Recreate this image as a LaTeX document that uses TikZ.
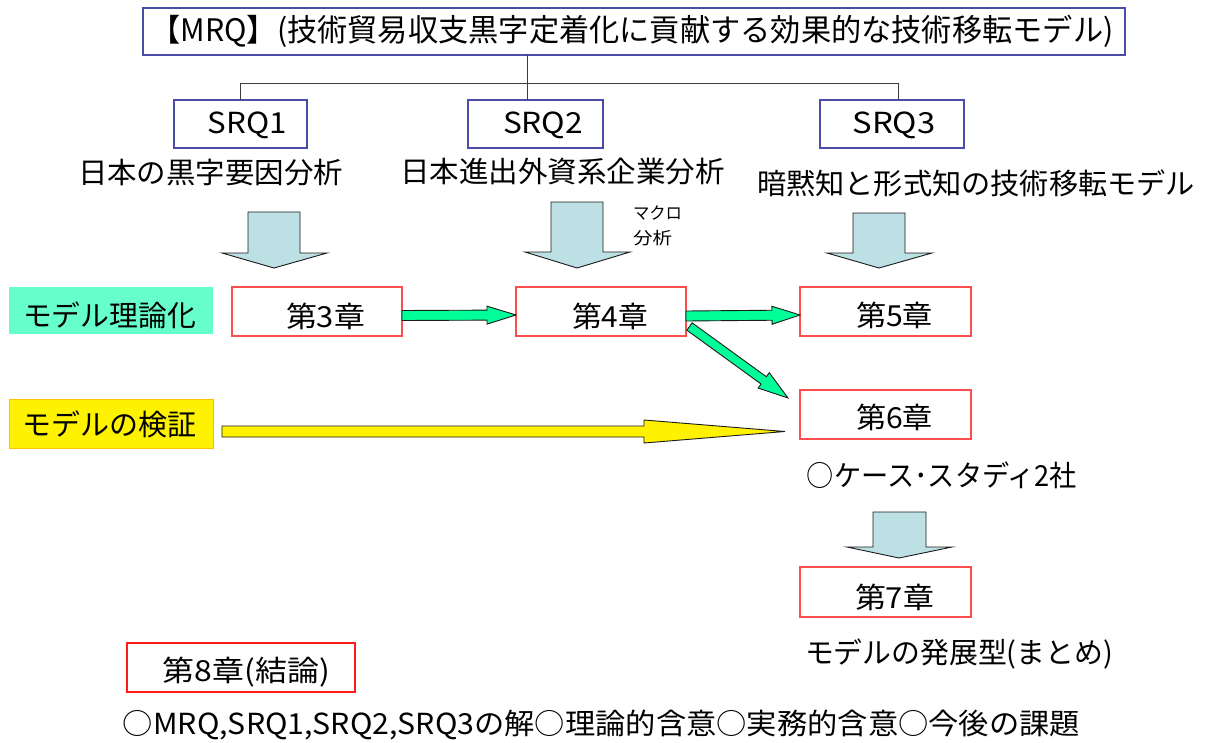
\documentclass[tikz,border=0pt]{standalone}
\usepackage{fontspec}
\setmainfont{Noto Sans CJK JP}
\usepackage{graphicx}
\usetikzlibrary{calc}
\definecolor{boxblue}{HTML}{4B4BAA}
\definecolor{chapred}{HTML}{FF4D4D}
\definecolor{redeight}{HTML}{FF1A1A}
\definecolor{lblue}{HTML}{BCE0E4}
\definecolor{sgreen}{HTML}{00FF99}
\definecolor{aqua}{HTML}{66FFCC}
\definecolor{goldline}{HTML}{FFC000}
\definecolor{outl}{HTML}{1A1A1A}
\newcommand\fw[2]{\resizebox{#1pt}{\height}{#2}}
% block arrow: #1 start, #2 tip, #3 shaft half width, #4 head half width, #5 head length, #6 style
\newcommand\blk[6]{%
  \coordinate (bkh) at ($(#2)!#5!(#1)$);
  \filldraw[#6] ($(#1)!#3!90:(#2)$) -- ($(bkh)!#3!90:(#2)$) -- ($(bkh)!#4!90:(#2)$) -- (#2)
    -- ($(bkh)!#4!-90:(#2)$) -- ($(bkh)!#3!-90:(#2)$) -- ($(#1)!#3!-90:(#2)$) -- cycle;}
\begin{document}
\begin{tikzpicture}[x=1pt,y=-1pt,
  every node/.style={inner sep=0pt, outer sep=0pt, font=\fontsize{29}{34}\selectfont},
  bluebox/.style={draw=boxblue, line width=1.2pt, rectangle},
  chapbox/.style={draw=chapred, line width=1.2pt, rectangle, minimum width=170pt, minimum height=49pt},
  bigarrow/.style={fill=lblue, draw=outl, line width=0.9pt},
  garrow/.style={fill=sgreen, draw=outl, line width=0.9pt},
  yarrow/.style={fill=yellow, draw=outl, line width=0.9pt},
  treeline/.style={draw=outl!85, line width=1pt},
  small/.style={font=\fontsize{17}{20}\selectfont}]
\fill[white] (0,0) rectangle (1205,742);
\useasboundingbox (0,0) rectangle (1205,742);

% title
\node[bluebox, minimum width=982pt, minimum height=47pt] (title) at (634,31.5) {};
\node[font=\fontsize{31}{34}\selectfont] (titletxt) at (632,31.5) {\fw{963}{【MRQ】(技術貿易収支黒字定着化に貢献する効果的な技術移転モデル)}};

% SRQ boxes
\node[bluebox, minimum width=133pt, minimum height=48pt] (s1) at (240.5,124) {};
\node[bluebox, minimum width=135pt, minimum height=48pt] (s2) at (535.5,124) {};
\node[bluebox, minimum width=144pt, minimum height=48pt] (s3) at (892,124) {};
\node (s1t) at (247.5,125) {\fw{79}{SRQ1}};
\node (s2t) at (543,125) {\fw{80}{SRQ2}};
\node (s3t) at (894,125) {\fw{83}{SRQ3}};

% tree lines
\coordinate (jn) at (527,83);
\draw[treeline] (title.south -| jn) -- (s2.north -| jn);
\draw[treeline] (s1.north) -- (s1.north |- jn) -- ($(s3.north |- jn)+(6,0)$) -- ($(s3.north)+(6,0)$);

% SRQ labels
\node (l1) at (210.5,173) {\fw{265}{日本の黒字要因分析}};
\node (l2) at (562.5,172) {\fw{325}{日本進出外資系企業分析}};
\node (l3) at (976,183) {\fw{438}{暗黙知と形式知の技術移転モデル}};
\node[small] (mk1) at (657.5,213) {\fw{49}{マクロ}};
\node[small] (mk2) at (652.5,238) {\fw{39}{分析}};

% big light-blue arrows
\filldraw[bigarrow] (248,212) -- (300,212) -- (300,253) -- (327,253) -- (274,268) -- (222,253) -- (248,253) -- cycle;
\filldraw[bigarrow] (551,202) -- (603,202) -- (603,252) -- (630,252) -- (577,268) -- (525,252) -- (551,252) -- cycle;
\filldraw[bigarrow] (853,213) -- (905,213) -- (905,253) -- (932,253) -- (879,268) -- (827,253) -- (853,253) -- cycle;
\filldraw[bigarrow] (873,512) -- (926,512) -- (926,547) -- (952,547) -- (899,558) -- (847,547) -- (873,547) -- cycle;

% left labels
\node[fill=aqua, minimum width=204pt, minimum height=47pt] (theory) at (111,310.5) {};
\node (theoryt) at (109.5,315) {\fw{173}{モデル理論化}};
\node[fill=yellow, draw=goldline, line width=1pt, minimum width=204pt, minimum height=49pt] (verify) at (111,423.5) {};
\node (verifyt) at (110,424) {\fw{174}{モデルの検証}};

% chapter boxes
\node[chapbox] (c3) at (317,311.5) {};
\node[chapbox] (c4) at (601,311.5) {};
\node[chapbox, minimum width=171pt] (c5) at (885.5,311.5) {};
\node[chapbox, minimum width=171pt] (c6) at (885.5,414.5) {};
\node[chapbox, minimum width=171pt, minimum height=50pt] (c7) at (885.5,592) {};
\node[draw=redeight, line width=1.2pt, minimum width=228pt, minimum height=49pt] (c8) at (241,667.5) {};
\node (c3t) at (325.5,316) {\fw{79}{第3章}};
\node (c4t) at (610,316) {\fw{76}{第4章}};
\node (c5t) at (894.5,315) {\fw{77}{第5章}};
\node (c6t) at (894.5,417) {\fw{77}{第6章}};
\node (c7t) at (894.5,597) {\fw{79}{第7章}};
\node (c8t) at (246.5,672) {\fw{167}{第8章(結論)}};

% other texts
\node (case) at (942,475) {\fw{270}{○ケース･スタディ2社}};
\node (summ) at (959,654) {\fw{308}{モデルの発展型(まとめ)}};
\node (bottom) at (601.5,725) {\fw{957}{○MRQ,SRQ1,SRQ2,SRQ3の解○理論的含意○実務的含意○今後の課題}};

% green arrows
\coordinate (g1s) at ($(c3.east)+(0,4)$);
\coordinate (g1e) at ($(c4.west)+(0,3.5)$);
\blk{g1s}{g1e}{5pt}{9pt}{29pt}{garrow}
\coordinate (g2s) at ($(c4.east)+(0,4.5)$);
\coordinate (g2e) at ($(c5.west)+(0,3.5)$);
\blk{g2s}{g2e}{5pt}{9pt}{28pt}{garrow}
\coordinate (g3s) at ($(c4.south east)+(3.5,-9.5)$);
\coordinate (g3e) at ($(c6.north west)+(-12,8)$);
\blk{g3s}{g3e}{4.5pt}{9.5pt}{30pt}{garrow}

% yellow arrow
\coordinate (ys) at ($(verify.east)+(9,8)$);
\coordinate (ye) at ($(c6.west)+(-15,17)$);
\blk{ys}{ye}{5.5pt}{11.5pt}{141pt}{yarrow}
\end{tikzpicture}
\end{document}
